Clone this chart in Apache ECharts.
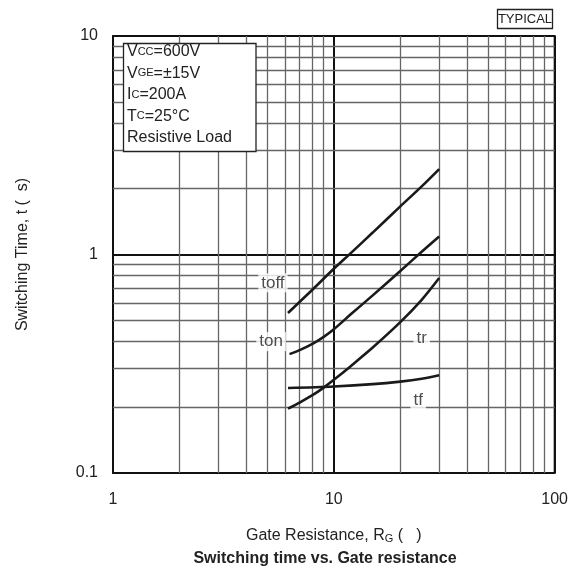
<!DOCTYPE html>
<html><head><meta charset="utf-8">
<script src="https://cdn.jsdelivr.net/npm/echarts@6/dist/echarts.min.js"></script>
<style>html,body{margin:0;padding:0;background:#fff}#c{width:571px;height:579px}</style>
</head><body><div id="c"></div>
<script>
// ---- data ----
const rgOff = [6.2, 8, 10, 12, 15, 20, 25, 30];
const tOff  = [0.54, 0.69, 0.86, 1.02, 1.26, 1.66, 2.05, 2.46];
const rgOn  = [6.3, 7, 8, 9, 10, 12, 15, 20, 25, 30];
const tOn   = [0.35, 0.365, 0.39, 0.42, 0.455, 0.535, 0.65, 0.84, 1.03, 1.21];
const rgR   = [6.2, 7, 8, 9, 10, 12, 15, 20, 25, 30];
const tR    = [0.197, 0.21, 0.227, 0.246, 0.267, 0.31, 0.375, 0.49, 0.62, 0.78];
const rgF   = [6.2, 10, 15, 20, 25, 30];
const tF    = [0.245, 0.249, 0.255, 0.262, 0.27, 0.28];
const curveNames = ['toff', 'ton', 'tr', 'tf'];
const labelRg = [5.3, 5.2, 25.0, 24.1];
const labelT  = [0.742, 0.399, 0.412, 0.216];
const xMinor = [2,3,4,5,6,7,8,9,20,30,40,50,60,70,80,90];
const yMinor = [0.2,0.3,0.4,0.5,0.6,0.7,0.8,0.9,2,3,4,5,6,7,8,9];
const xTicks = [1, 10, 100];
const yTicks = [0.1, 1, 10];

const FONT = "'Liberation Sans', Arial, Helvetica, sans-serif";
const pair = (xs, ys) => xs.map((x, i) => [x, ys[i]]);

const chart = echarts.init(document.getElementById('c'), null, {renderer: 'canvas'});
const curveStyle = {color: '#1a1a1a', width: 2.6};
function curve(name, xs, ys) {
  return {name, type: 'line', data: pair(xs, ys), smooth: 0.3, showSymbol: false,
    lineStyle: curveStyle, z: 5, silent: true, animation: false};
}
chart.setOption({
  animation: false,
  grid: {left: 113, right: 15, top: 36, bottom: 106, show: true, borderColor: '#222', borderWidth: 2, backgroundColor: 'transparent'},
  xAxis: {type: 'log', logBase: 10, min: 1, max: 100,
    name: 'Gate Resistance, R{s|G} (   )', nameLocation: 'middle', nameGap: 55,
    nameTextStyle: {fontFamily: FONT, fontSize: 16, color: '#222', rich: {s: {fontFamily: FONT, fontSize: 11, color: '#222', verticalAlign: 'bottom'}}},
    axisLine: {show: false}, axisTick: {show: false},
    axisLabel: {fontFamily: FONT, fontSize: 16, color: '#222', margin: 19,
      formatter: v => xTicks.includes(v) ? String(v) : ''},
    splitLine: {show: true, lineStyle: {color: '#111', width: 2}}},
  yAxis: {type: 'log', logBase: 10, min: 0.1, max: 10,
    name: 'Switching Time, t (  s)', nameLocation: 'middle', nameGap: 82,
    nameTextStyle: {fontFamily: FONT, fontSize: 16, color: '#222'},
    axisLine: {show: false}, axisTick: {show: false},
    axisLabel: {fontFamily: FONT, fontSize: 16, color: '#222', margin: 15,
      formatter: v => yTicks.some(t => Math.abs(t - v) < 1e-9) ? String(v) : ''},
    splitLine: {show: true, lineStyle: {color: '#111', width: 2}}},
  series: [
    {type: 'line', data: [], silent: true, z: 1,
      markLine: {silent: true, symbol: ['none', 'none'], label: {show: false}, animation: false,
        lineStyle: {color: '#666', width: 1.3, type: 'solid'},
        data: xMinor.map(v => ({xAxis: v})).concat(yMinor.map(v => ({yAxis: v})))}},
    curve('toff', rgOff, tOff),
    curve('ton', rgOn, tOn),
    curve('tr', rgR, tR),
    curve('tf', rgF, tF),
    {type: 'scatter', symbolSize: 0, z: 10, silent: true,
      data: curveNames.map((n, i) => ({name: n, value: [labelRg[i], labelT[i]]})),
      label: {show: true, position: 'inside', formatter: p => p.name, fontFamily: FONT, fontSize: 17,
        color: '#222', backgroundColor: '#fff', padding: [1, 3, 1, 3]}}
  ],
  graphic: [
    {type: 'rect', shape: {x: 123.5, y: 43.5, width: 132.5, height: 108}, style: {fill: '#fff', stroke: '#222', lineWidth: 1.3}, z: 20},
    {type: 'text', x: 127, y: 41, z: 21, style: {
      text: 'V{s|CC}=600V\nV{s|GE}=±15V\nI{s|C}=200A\nT{s|C}=25°C\nResistive Load',
      font: '16px ' + FONT, fill: '#222', lineHeight: 21.5, verticalAlign: 'top',
      rich: {s: {fontSize: 11, fontFamily: FONT, fill: '#222', lineHeight: 21.5}}}},
    {type: 'rect', shape: {x: 497.5, y: 9.5, width: 55, height: 19}, style: {fill: '#fff', stroke: '#222', lineWidth: 1.3}, z: 20},
    {type: 'text', x: 525, y: 19.5, z: 21, style: {text: 'TYPICAL', font: '13px ' + FONT, fill: '#222', align: 'center', verticalAlign: 'middle'}},
    {type: 'text', x: 325, y: 559, z: 21, style: {text: 'Switching time vs. Gate resistance', font: 'bold 16px ' + FONT, fill: '#222', align: 'center', verticalAlign: 'middle'}}
  ]
});
</script></body></html>
